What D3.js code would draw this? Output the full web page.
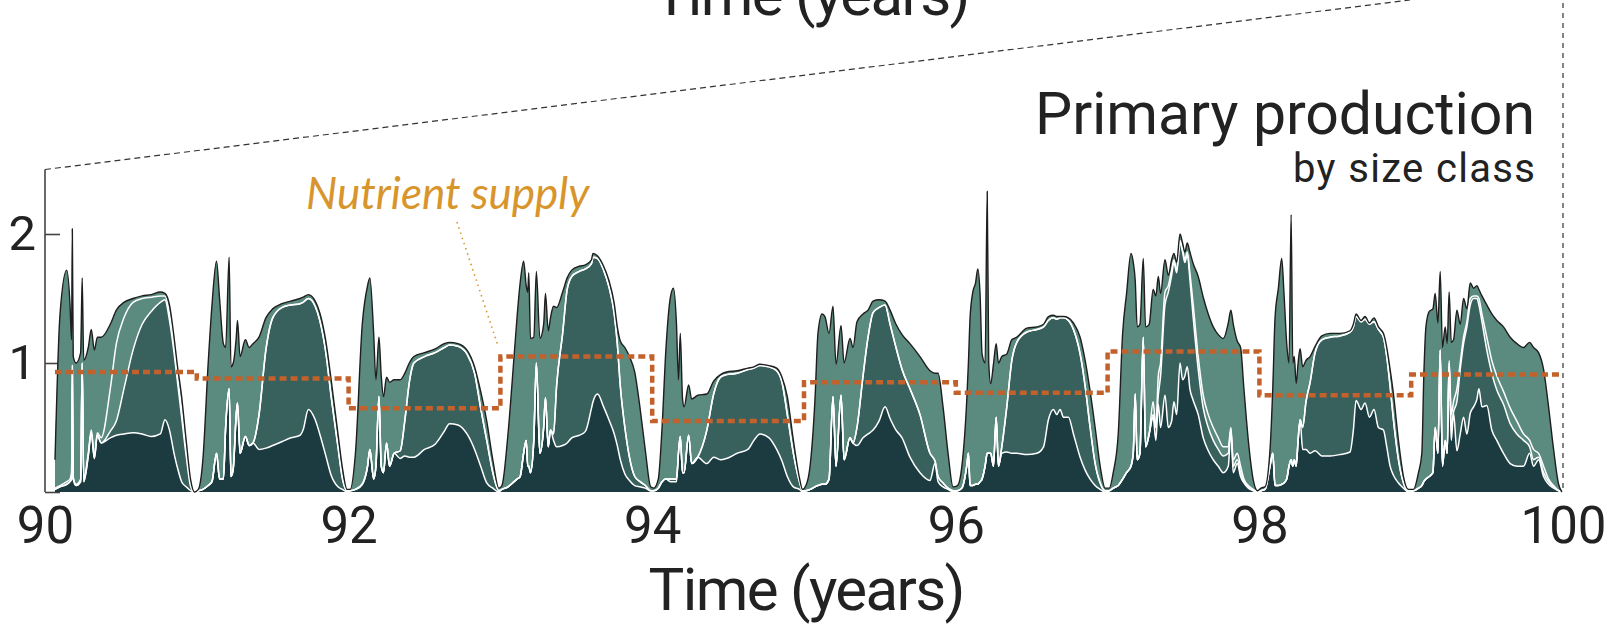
<!DOCTYPE html>
<html>
<head>
<meta charset="utf-8">
<script src="https://cdn.jsdelivr.net/npm/d3@7"></script>
<style>
  body { margin: 0; background: #fff; }
  svg { display: block; }
</style>
</head>
<body>
<div id="chart"></div>
<script>
// time axis (years) and primary production per size class
const time = [
  90.066,90.099,90.143,90.165,90.175,90.18,90.186,90.205,90.235,90.245,90.255,90.285,90.305,90.325,90.345,90.37,90.43,90.47,90.52,90.58,90.64,90.70,90.76,90.79,90.82,90.85,90.87,90.90,90.93,90.96,90.985,
  91.01,91.04,91.075,91.1,91.13,91.15,91.175,91.19,91.213,91.225,91.24,91.26,91.268,91.285,91.32,91.345,91.37,91.41,91.455,91.5,91.56,91.62,91.68,91.70,91.735,91.78,91.81,91.85,91.885,91.93,91.96,91.99,
  92.01,92.045,92.09,92.125,92.14,92.165,92.18,92.2,92.215,92.23,92.25,92.27,92.3,92.34,92.37,92.4,92.43,92.5,92.57,92.63,92.665,92.72,92.78,92.83,92.87,92.91,92.95,92.99,
  93.01,93.05,93.09,93.11,93.13,93.153,93.17,93.18,93.187,93.198,93.22,93.237,93.26,93.285,93.297,93.315,93.33,93.35,93.37,93.41,93.44,93.47,93.52,93.56,93.6,93.61,93.64,93.68,93.715,93.75,93.77,93.79,93.82,93.85,93.885,93.92,93.955,93.99,
  94.01,94.04,94.065,94.09,94.12,94.14,94.16,94.173,94.185,94.2,94.21,94.24,94.26,94.3,94.36,94.405,94.45,94.49,94.56,94.63,94.67,94.71,94.77,94.82,94.855,94.89,94.93,94.97,94.99,
  95.013,95.04,95.072,95.092,95.119,95.138,95.165,95.191,95.211,95.244,95.264,95.303,95.323,95.349,95.389,95.422,95.455,95.494,95.534,95.567,95.606,95.646,95.698,95.764,95.83,95.863,95.883,95.916,95.949,95.982,
  96.011,96.04,96.072,96.083,96.094,96.112,96.13,96.145,96.16,96.173,96.193,96.207,96.217,96.23,96.248,96.266,96.281,96.303,96.336,96.369,96.402,96.468,96.534,96.578,96.61,96.643,96.665,96.687,96.709,96.742,96.775,96.819,96.852,96.885,96.918,96.951,96.984,
  97.011,97.037,97.07,97.099,97.125,97.154,97.169,97.182,97.195,97.213,97.235,97.25,97.274,97.3,97.318,97.334,97.349,97.378,97.4,97.422,97.437,97.455,97.477,97.494,97.509,97.525,97.542,97.564,97.597,97.63,97.663,97.696,97.729,97.762,97.795,97.812,97.828,97.854,97.876,97.898,97.927,97.96,97.988,
  98.011,98.037,98.07,98.088,98.103,98.125,98.147,98.162,98.18,98.195,98.209,98.22,98.23,98.242,98.255,98.268,98.285,98.307,98.334,98.367,98.411,98.466,98.531,98.597,98.619,98.637,98.67,98.696,98.725,98.755,98.784,98.817,98.839,98.861,98.883,98.916,98.949,98.982,
  99.015,99.048,99.07,99.083,99.097,99.119,99.143,99.158,99.176,99.191,99.206,99.224,99.237,99.25,99.264,99.279,99.301,99.323,99.345,99.367,99.389,99.411,99.433,99.446,99.466,99.498,99.531,99.564,99.608,99.652,99.696,99.74,99.78,99.806,99.839,99.872,99.905,99.938,99.971,99.993
];

// size class 1 (bottom, darkest)
const class1 = [
  .02,.04,.06,.08,.1,.95,.1,.05,.08,1.0,.08,.28,.46,.26,.44,.38,.42,.44,.45,.46,.45,.43,.45,.56,.48,.3,.2,.08,.04,.01,0,
  .01,.02,.05,.08,.3,.1,.1,.5,.8,.12,.18,.6,.69,.3,.43,.36,.38,.33,.34,.36,.39,.42,.44,.48,.64,.56,.45,.28,.13,.04,.02,0,
  .01,.02,.06,.2,.33,.1,.2,.74,.2,.15,.38,.2,.3,.26,.28,.27,.27,.33,.37,.47,.53,.52,.45,.33,.2,.07,.03,0,
  .02,.04,.08,.1,.12,.3,.4,.2,.2,.15,.4,1.0,.3,.5,.73,.35,.48,.4,.35,.36,.38,.42,.44,.47,.65,.7,.76,.66,.56,.45,.36,.25,.14,.09,.05,.04,.03,.01,
  .01,.03,.08,.1,.08,.08,.08,.3,.43,.15,.15,.44,.22,.27,.22,.27,.25,.26,.3,.33,.4,.45,.42,.33,.24,.12,.04,.02,0,
  .01,.02,.04,.05,.06,.06,.1,.74,.2,.75,.25,.42,.38,.36,.42,.45,.48,.55,.66,.57,.48,.42,.27,.15,.09,.22,.08,.04,.02,0,
  .01,.03,.2,.3,.05,.05,.06,.06,.08,.1,.2,.3,.3,.3,.2,.58,.2,.3,.31,.3,.3,.29,.3,.35,.56,.64,.6,.64,.58,.58,.45,.27,.17,.1,.05,.02,0,
  .01,.03,.05,.1,.15,.2,.3,.76,.25,.3,1.2,.35,.45,.58,.4,.68,.5,.75,.5,.55,.7,.6,1.0,.87,.9,.97,.8,.71,.6,.42,.32,.25,.2,.15,.2,.48,.15,.22,.12,.07,.03,.01,0,
  .01,.02,.2,.3,.05,.05,.06,.07,.1,.2,.25,.2,.25,.2,.4,.56,.33,.33,.3,.32,.28,.28,.29,.31,.48,.71,.64,.69,.58,.64,.5,.48,.35,.2,.13,.07,.03,0,
  .01,.03,.05,.08,.1,.12,.15,.5,.3,1.1,.2,.4,.3,1.0,.4,.61,.32,.45,.58,.45,.61,.66,.72,.8,.66,.67,.48,.4,.3,.22,.2,.2,.3,.2,.25,.12,.06,.03,.01,0
];

// size class 2 (mid teal)
const class2 = [
  0,0,0,0,0,0,0,0,0,0,0,0,0,0,0,0,.05,.11,.35,.64,.85,.97,1.02,.93,.85,.78,.68,.5,.24,.03,0,
  0,0,0,0,0,0,0,0,0,0,0,0,0,0,0,0,0,.27,.76,.99,1.04,1.03,1.02,.99,.86,.88,.88,.8,.61,.31,.08,.01,
  0,0,0,0,0,0,0,0,0,0,0,0,0,.06,.27,.58,.73,.72,.71,.65,.61,.61,.62,.59,.45,.33,.12,.01,
  0,0,0,0,0,0,0,0,0,0,0,0,0,0,0,0,0,.05,.47,.87,1.19,1.25,1.27,1.26,1.12,1.12,1.05,1.06,1.03,.93,.79,.57,.36,.18,.07,.04,.02,0,
  0,0,0,0,.02,.02,.02,0,0,0,0,0,0,0,.26,.49,.64,.65,.62,.62,.56,.53,.55,.61,.61,.48,.26,.06,.01,
  0,0,0,0,0,0,0,0,0,0,0,0,0,.14,.48,.75,.91,.88,.79,.73,.64,.53,.53,.45,.21,.02,.04,.03,.01,.01,
  0,0,0,0,0,0,0,0,0,0,0,0,0,0,0,0,0,.05,.35,.72,.86,.95,.96,.93,.77,.71,.74,.71,.77,.75,.81,.8,.65,.4,.17,.05,.01,
  0,0,0,0,0,0,0,0,0,0,0,0,0,.02,.1,.07,.4,.7,1.05,1.13,1.08,1.1,.93,.99,.88,.87,.85,.64,.35,.23,.18,.15,.13,.13,.1,0,.05,.03,.03,.01,.01,0,0,
  0,0,0,0,0,0,0,0,0,0,0,0,0,0,0,0,.17,.37,.55,.76,.9,.92,.92,.93,.8,.65,.68,.65,.72,.68,.76,.72,.7,.62,.43,.18,.04,.01,
  0,0,0,0,0,0,0,0,0,0,0,0,0,0,.1,.01,.38,.5,.57,.83,.84,.84,.78,.65,.66,.43,.44,.39,.38,.31,.25,.2,.05,.05,.02,.03,.02,.01,0,0
];

// size class 3 (thin light band)
const class3 = [
  .01,.01,.02,.02,.05,.03,.02,.01,.02,0,.02,.02,.02,.02,.02,.04,.33,.6,.55,.37,.2,.11,.05,.03,.05,.07,.05,.06,.04,.02,0,
  0,0,0,0,0,0,0,0,0,0,0,0,0,0,0,0,0,0,0,0,0,0,0,0,0,0,0,0,0,0,0,0,
  0,0,0,0,0,0,0,0,0,0,0,0,0,0,0,0,0,0,0,0,0,0,0,0,0,0,0,0,
  0,0,0,0,0,0,0,0,0,0,0,0,0,0,0,0,0,0,0,0,0,0,0,0,0,0,0,0,0,0,0,0,0,0,0,0,0,0,
  0,0,0,0,0,0,0,0,0,0,0,0,0,0,0,0,0,0,0,0,0,0,0,0,0,0,0,0,0,
  0,0,0,0,0,0,0,0,0,0,0,0,0,0,0,0,0,0,0,0,0,0,0,0,0,0,0,0,0,0,
  0,0,0,0,0,0,0,0,0,0,0,0,0,0,0,0,0,0,0,0,0,0,0,0,0,0,0,0,0,0,0,0,0,0,0,0,0,
  0,0,0,0,0,0,0,0,0,0,0,0,0,.1,0,.15,.1,.1,.05,.04,.02,.02,.02,.02,.02,.02,.05,.1,.1,.1,.1,.1,.09,.07,.05,.02,.05,.05,.05,.02,.01,.01,0,
  0,0,0,0,0,0,0,0,0,0,0,0,0,0,0,0,0,0,0,0,0,0,0,0,0,0,0,0,0,0,0,0,0,0,0,0,0,0,
  0,0,0,0,0,0,0,0,0,0,0,0,0,.02,.1,.08,.1,.05,.05,.04,.05,.02,.02,.05,.06,.1,.1,.11,.1,.12,.1,.05,.05,.08,.03,.05,.02,.01,0,0
];

// size class 4 (top, light teal)
const class4 = [
  .22,1.33,1.64,1.35,1.03,1.06,.93,.94,.98,.66,.92,.82,.78,.82,.74,.78,.5,.26,.12,.03,.02,.02,.03,.02,.07,.05,.07,.1,.08,.03,0,
  .01,.23,.95,1.37,1.49,1.4,1.05,.62,1.02,.85,.82,.6,.64,.75,.75,.76,.77,.6,.25,.07,.03,.03,.04,.04,.03,.04,.06,.09,.13,.1,.08,.01,
  .01,.28,1.24,1.4,1.33,1.13,.67,.46,.7,.59,.51,.65,.57,.55,.37,.15,.05,.03,.03,.03,.02,.02,.03,.05,.13,.15,.1,.02,
  .03,.41,.97,1.26,1.5,1.49,1.2,1.35,1.5,1.04,.8,.71,.89,.8,.81,.9,.87,.99,.61,.32,.09,.05,.04,.03,.03,.03,.02,.03,.05,.08,.13,.35,.62,.78,.81,.57,.27,.03,
  .02,.07,.42,1.0,1.41,1.48,1.2,.57,.8,.57,.51,.39,.5,.48,.28,.1,.02,.02,.02,.01,.01,.01,.01,.02,.04,.14,.1,.03,.01,
  .04,.18,.67,1.18,1.32,1.3,1.13,.7,.79,.54,.75,.77,.74,.82,.48,.21,.09,.06,.03,.11,.18,.27,.35,.45,.64,.68,.8,.59,.27,.03,
  .04,.17,.51,.7,1.3,1.5,1.56,1.67,1.45,.97,.8,2.03,.7,.54,.79,.57,.8,.7,.41,.16,.04,.03,.02,.02,.03,.02,.02,.01,.01,.02,.05,.13,.2,.28,.28,.13,.02,
  .02,.12,.4,1.13,1.39,1.65,1.48,.88,1.03,1.0,.61,.93,.85,.87,1.02,.77,.54,.25,.08,.08,.05,.06,.05,.05,.06,.07,.16,.32,.62,.76,.78,.78,.8,.84,.96,.91,1.05,.87,.92,.7,.35,.07,.01,
  .02,.02,.13,.5,1.3,1.53,1.75,1.47,1.05,.8,1.9,.8,.8,.64,.6,.55,.47,.32,.2,.05,.03,.03,.02,.01,.02,.02,.01,.02,.01,.03,.02,.03,.07,.13,.2,.15,.05,.01,
  .01,.12,.25,.82,1.18,1.28,1.27,1.04,1.01,.61,.92,.88,.85,.53,.56,.48,.61,.3,.3,.1,.12,.06,.08,.07,.14,.25,.36,.43,.5,.55,.6,.67,.76,.79,.78,.75,.56,.28,.05,0
];

// nutrient supply, one value per year
const nutrientYears = [90, 91, 92, 93, 94, 95, 96, 97, 98, 99];
const nutrientSupply = [0.93, 0.88, 0.65, 1.05, 0.55, 0.85, 0.77, 1.09, 0.75, 0.91];

const xTicks = [90, 92, 94, 96, 98, 100];
const yTicks = [0, 1, 2];

const width = 1615;
const height = 628;
const font = 'Roboto, "Liberation Sans", sans-serif';

const svg = d3.select("#chart")
    .append("svg")
    .attr("width", width)
    .attr("height", height);

const x = d3.scaleLinear().domain([90, 100]).range([45, 1563]);
const y = d3.scaleLinear().domain([0, 2.5]).range([492, 169.5]);

// build table for the stack
const keys = ["c1", "c2", "c3", "c4"];
const table = time.map((t, i) => ({
    t: t, c1: class1[i], c2: class2[i], c3: class3[i], c4: class4[i]
}));
const stacked = d3.stack().keys(keys)(table);
const colors = ["#1b3b40", "#38615e", "#5a8b7e", "#5a8b7e"];

// dashed guide lines to the panel above
svg.append("line")
    .attr("x1", x(90)).attr("y1", y(2.5))
    .attr("x2", 1410).attr("y2", 0)
    .attr("stroke", "#333").attr("stroke-width", 1.2)
    .attr("stroke-dasharray", "6,4");
svg.append("line")
    .attr("x1", x(100)).attr("y1", 3)
    .attr("x2", x(100)).attr("y2", y(0))
    .attr("stroke", "#333").attr("stroke-width", 1.2)
    .attr("stroke-dasharray", "5,5");

// y axis
svg.append("line")
    .attr("x1", x(90)).attr("x2", x(90))
    .attr("y1", y(0)).attr("y2", y(2.5))
    .attr("stroke", "#444").attr("stroke-width", 1.6);

const yAxis = svg.append("g")
    .attr("transform", `translate(${x(90)},0)`)
    .call(d3.axisLeft(y).tickValues(yTicks).tickSize(-15).tickPadding(9)
        .tickFormat(d => d === 0 ? "" : d));
yAxis.select(".domain").remove();
yAxis.selectAll("line").attr("stroke", "#444").attr("stroke-width", 1.6);
yAxis.selectAll("text")
    .attr("font-family", font)
    .attr("font-size", 49)
    .attr("fill", "#222");

// stacked areas
const area = d3.area()
    .x(d => x(d.data.t))
    .y0(d => y(d[0]))
    .y1(d => y(d[1]))
    .curve(d3.curveMonotoneX);

svg.append("g").selectAll("path")
    .data(stacked)
    .join("path")
    .attr("d", area)
    .attr("fill", (d, i) => colors[i]);

const edge = d3.line()
    .x(d => x(d.data.t))
    .y(d => y(d[1]))
    .curve(d3.curveMonotoneX);

svg.append("g").selectAll("path")
    .data(stacked.slice(0, 3))
    .join("path")
    .attr("d", edge)
    .attr("fill", "none")
    .attr("stroke", "#fff")
    .attr("stroke-width", 1.5);

svg.append("path")
    .attr("d", edge(stacked[3]))
    .attr("fill", "none")
    .attr("stroke", "#1e1e1e")
    .attr("stroke-width", 1.4);

// nutrient supply step line
const nutrientPts = nutrientYears.map((yr, i) => [i === 0 ? time[0] : yr, nutrientSupply[i]]);
nutrientPts.push([time[time.length - 1], nutrientSupply[nutrientSupply.length - 1]]);

svg.append("path")
    .attr("d", d3.line()
        .x(d => x(d[0]))
        .y(d => y(d[1]))
        .curve(d3.curveStepAfter)(nutrientPts))
    .attr("fill", "none")
    .attr("stroke", "#c2612b")
    .attr("stroke-width", 4.5)
    .attr("stroke-dasharray", "7,4");

// x axis labels
const xAxis = svg.append("g")
    .attr("transform", `translate(0,${y(0)})`)
    .call(d3.axisBottom(x).tickValues(xTicks).tickSize(0).tickPadding(15));
xAxis.select(".domain").remove();
xAxis.selectAll("text")
    .attr("font-family", font)
    .attr("font-size", 51)
    .attr("fill", "#222");

// titles
function title(txt, px, py, size, len, anchor) {
    svg.append("text")
        .attr("x", px).attr("y", py)
        .attr("text-anchor", anchor)
        .attr("font-family", font)
        .attr("font-size", size)
        .attr("textLength", len).attr("lengthAdjust", "spacing")
        .attr("fill", "#222")
        .text(txt);
}
title("Time (years)", 807, 610, 60, 317, "middle");
title("Time (years)", 812, 15, 60, 317, "middle");
title("Primary production", 1535, 134, 59, 500, "end");
title("by size class", 1535, 182, 40, 242, "end");

// nutrient annotation
svg.append("text")
    .attr("x", 306).attr("y", 209)
    .attr("font-family", "Lato, 'Open Sans', sans-serif")
    .attr("font-style", "italic")
    .attr("font-size", 44)
    .attr("fill", "#d8952b")
    .text("Nutrient supply");

svg.append("line")
    .attr("x1", 457).attr("y1", 222)
    .attr("x2", x(92.985)).attr("y2", y(1.13))
    .attr("stroke", "#d8952b")
    .attr("stroke-width", 1.6)
    .attr("stroke-dasharray", "1.5,4");
</script>
</body>
</html>
